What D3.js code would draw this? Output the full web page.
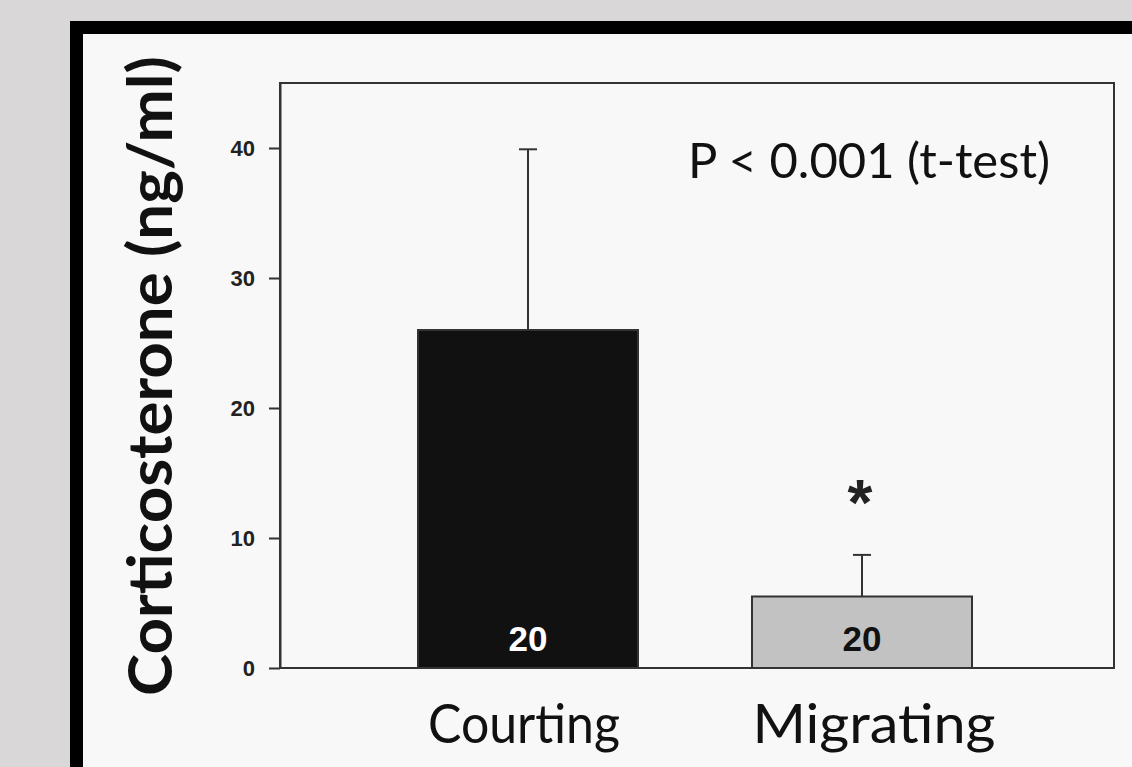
<!DOCTYPE html>
<html>
<head>
<meta charset="utf-8">
<script src="https://cdn.jsdelivr.net/npm/d3@7"></script>
<style>
  body { margin: 0; background: #d9d7d8; }
  svg { display: block; }
</style>
</head>
<body>
<script>
// data
var groups = ["Courting", "Migrating"];
var means = [26, 5.5];
var errTop = [39.9, 8.7];
var nLabels = ["20", "20"];
var barColors = ["#111111", "#c2c2c2"];
var nColors = ["#ffffff", "#111111"];
var yTicks = [0, 10, 20, 30, 40];
var sigMarks = ["", "*"];
var labelWidths = [192, 243];

var W = 1132, H = 767;

var svg = d3.select("body").append("svg")
    .attr("width", W)
    .attr("height", H);

// black frame with light panel inside
svg.append("rect")
    .attr("x", 76.5).attr("y", 27.5)
    .attr("width", W).attr("height", H)
    .attr("fill", "#f8f8f8")
    .attr("stroke", "#000")
    .attr("stroke-width", 13);

// plot area
var margin = {top: 83, right: 1114, bottom: 668, left: 280};

var y = d3.scaleLinear()
    .domain([0, 45])
    .range([margin.bottom, margin.top]);

var x = d3.scaleLinear()
    .domain([0, 1])
    .range([528, 862]);

var barW = 220;

// box
svg.append("rect")
    .attr("x", margin.left).attr("y", margin.top)
    .attr("width", margin.right - margin.left)
    .attr("height", margin.bottom - margin.top)
    .attr("fill", "none")
    .attr("stroke", "#333")
    .attr("stroke-width", 2);

// error bars (drawn first so bar covers lower half)
groups.forEach(function(g, i) {
  var cx = x(i);
  svg.append("line")
      .attr("x1", cx).attr("x2", cx)
      .attr("y1", y(means[i])).attr("y2", y(errTop[i]))
      .attr("stroke", "#333").attr("stroke-width", 2);
  svg.append("line")
      .attr("x1", cx - 9).attr("x2", cx + 9)
      .attr("y1", y(errTop[i])).attr("y2", y(errTop[i]))
      .attr("stroke", "#333").attr("stroke-width", 2);
});

// bars
svg.selectAll(".bar")
    .data(groups)
    .enter().append("rect")
    .attr("class", "bar")
    .attr("x", function(d, i) { return x(i) - barW / 2; })
    .attr("y", function(d, i) { return y(means[i]); })
    .attr("width", barW)
    .attr("height", function(d, i) { return y(0) - y(means[i]); })
    .attr("fill", function(d, i) { return barColors[i]; })
    .attr("stroke", "#333")
    .attr("stroke-width", 2);

// n labels inside bars
svg.selectAll(".nlab")
    .data(nLabels)
    .enter().append("text")
    .attr("x", function(d, i) { return x(i); })
    .attr("y", 651)
    .attr("text-anchor", "middle")
    .attr("font-family", "Liberation Sans, Arial, sans-serif")
    .attr("font-weight", "bold")
    .attr("font-size", 35)
    .attr("fill", function(d, i) { return nColors[i]; })
    .text(function(d) { return d; });

// significance mark
svg.selectAll(".sig")
    .data(sigMarks)
    .enter().append("text")
    .attr("x", function(d, i) { return x(i) - 2; })
    .attr("y", 525)
    .attr("text-anchor", "middle")
    .attr("font-family", "Liberation Sans, Arial, sans-serif")
    .attr("font-weight", "bold")
    .attr("font-size", 64)
    .attr("fill", "#222")
    .text(function(d) { return d; });

// y axis
var yAxis = svg.append("g")
    .attr("transform", "translate(" + margin.left + ",0)")
    .call(d3.axisLeft(y).tickValues(yTicks).tickSize(11).tickPadding(14).tickSizeOuter(0));
yAxis.select(".domain").attr("stroke", "#333").attr("stroke-width", 2);
yAxis.selectAll(".tick line").attr("stroke", "#333").attr("stroke-width", 2);
yAxis.selectAll(".tick text")
    .attr("font-family", "Liberation Sans, Arial, sans-serif")
    .attr("font-weight", "bold")
    .attr("font-size", 22)
    .attr("fill", "#222");

// x labels
svg.selectAll(".xlab")
    .data(groups)
    .enter().append("text")
    .attr("x", function(d, i) { return x(i) - 4 + i * 16; })
    .attr("y", 743)
    .attr("text-anchor", "middle")
    .attr("font-family", "Lato, Open Sans, sans-serif")
    .attr("font-size", 54)
    .attr("textLength", function(d, i) { return labelWidths[i]; })
    .attr("lengthAdjust", "spacingAndGlyphs")
    .attr("fill", "#111")
    .text(function(d) { return d; });

// y title
svg.append("text")
    .attr("transform", "translate(172,376) rotate(-90)")
    .attr("text-anchor", "middle")
    .attr("font-family", "Lato, Open Sans, sans-serif")
    .attr("font-weight", "bold")
    .attr("font-size", 61)
    .attr("textLength", 640)
    .attr("lengthAdjust", "spacingAndGlyphs")
    .attr("fill", "#111")
    .text("Corticosterone (ng/ml)");

// p value note
svg.append("text")
    .attr("x", 869)
    .attr("y", 178)
    .attr("text-anchor", "middle")
    .attr("font-family", "Lato, Open Sans, sans-serif")
    .attr("font-size", 48)
    .attr("textLength", 362)
    .attr("lengthAdjust", "spacingAndGlyphs")
    .attr("fill", "#111")
    .text("P < 0.001 (t-test)");
</script>
</body>
</html>
